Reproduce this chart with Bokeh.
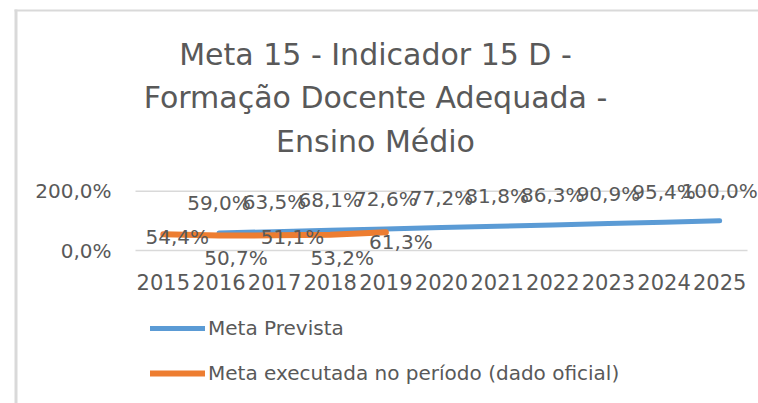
from bokeh.plotting import figure
from bokeh.models import (Range1d, FixedTicker, LabelSet, ColumnDataSource,
                          Legend, LegendItem, Label, BoxAnnotation)
from bokeh.core.properties import value
from bokeh.embed import file_html
from bokeh.resources import INLINE

years = ["2015", "2016", "2017", "2018", "2019", "2020", "2021", "2022", "2023", "2024", "2025"]
prev_years = ["2016", "2017", "2018", "2019", "2020", "2021", "2022", "2023", "2024", "2025"]
prev_values = [59.0, 63.5, 68.1, 72.6, 77.2, 81.8, 86.3, 90.9, 95.4, 100.0]
exec_years = ["2015", "2016", "2017", "2018", "2019"]
exec_values = [54.4, 50.7, 51.1, 53.2, 61.3]
y_ticks = [0, 200]
title_lines = ["Meta 15 - Indicador 15 D -", "Formação Docente Adequada -", "Ensino Médio"]
series_names = ["Meta Prevista", "Meta executada no período (dado oficial)"]

# label layout (pixel offsets, not data)
exec_dx = [14, 17, 18, 12, 15]
exec_dy = [-3, -23, -2, -23, -10]
title_baselines = [54, 97, 141]

FONT = "DejaVu Sans"
TXT = "#595959"
BLUE = "#5B9BD5"
ORANGE = "#ED7D31"
GRID = "#D9D9D9"

W, H = 758, 403
AXIS_PX = 268               # x axis line, px from top
PX_PER_UNIT = 59.3 / 200.0  # vertical scale
ZERO_PX = 250
PLOT_LEFT_PX, PLOT_RIGHT_PX = 135, 747   # plot area edges

n = len(years)
cat_px = (PLOT_RIGHT_PX - PLOT_LEFT_PX) / n

def fmt(v):
    return f"{v:.1f}".replace(".", ",") + "%"

def px_to_y(py):
    return (ZERO_PX - py) / PX_PER_UNIT

def px_to_x(px):
    return (px - PLOT_LEFT_PX) / cat_px - 0.5

idx = {y: i for i, y in enumerate(years)}

p = figure(width=W, height=H,
           x_range=Range1d(px_to_x(0), px_to_x(W)),
           y_range=Range1d(px_to_y(H), px_to_y(0)), output_backend="svg", toolbar_location=None,
           min_border_left=0, min_border_right=0, min_border_top=0, min_border_bottom=0)
p.title = None
p.outline_line_color = None
p.background_fill_color = "white"
p.border_fill_color = "white"

p.xgrid.grid_line_color = None
p.ygrid.grid_line_color = None
p.segment(x0=[-0.5] * len(y_ticks), x1=[n - 0.5] * len(y_ticks), y0=y_ticks, y1=y_ticks,
          line_color=GRID, line_width=1.5)

p.xaxis.ticker = FixedTicker(ticks=list(range(n)))
p.xaxis.major_label_overrides = {i: y for i, y in enumerate(years)}
p.yaxis.ticker = FixedTicker(ticks=y_ticks)
p.yaxis.major_label_overrides = {t: fmt(t) for t in y_ticks}
for ax in (p.xaxis, p.yaxis):
    ax.axis_line_color = None
    ax.major_tick_line_color = None
    ax.minor_tick_line_color = None
    ax.major_tick_out = 0
    ax.major_tick_in = 0
    ax.major_label_text_font = FONT
    ax.major_label_text_font_size = "20px"
    ax.major_label_text_color = TXT
p.xaxis.major_label_text_font_size = "21px"
p.yaxis.major_label_standoff = 24
p.xaxis.major_label_standoff = 5
p.xaxis.fixed_location = px_to_y(AXIS_PX)
p.yaxis.fixed_location = -0.5

src_p = ColumnDataSource(dict(x=[idx[y] for y in prev_years], y=prev_values,
                              t=[fmt(v) for v in prev_values]))
src_e = ColumnDataSource(dict(x=[idx[y] for y in exec_years], y=exec_values,
                              t=[fmt(v) for v in exec_values], dx=exec_dx, dy=exec_dy))

r1 = p.line("x", "y", source=src_p, line_color=BLUE, line_width=5, line_cap="round", line_join="round")
r2 = p.line("x", "y", source=src_e, line_color=ORANGE, line_width=6, line_cap="round", line_join="round")

lp = LabelSet(x="x", y="y", text="t", source=src_p, y_offset=30, text_align="center",
              text_baseline="middle", text_font=value(FONT), text_font_size="20px", text_color=TXT)
le = LabelSet(x="x", y="y", text="t", source=src_e, x_offset="dx", y_offset="dy", text_align="center",
              text_baseline="middle", text_font=value(FONT), text_font_size="20px", text_color=TXT)
p.add_layout(lp)
p.add_layout(le)

for line, base in zip(title_lines, title_baselines):
    p.add_layout(Label(x=375, y=base, x_units="canvas", y_units="canvas", text=line,
                       text_align="center", text_baseline="alphabetic", text_font=FONT,
                       text_font_size="30px", text_color=TXT))

legend = Legend(items=[LegendItem(label=series_names[0], renderers=[r1]),
                       LegendItem(label=series_names[1], renderers=[r2])],
                location=(150, 18), orientation="vertical", glyph_width=55, glyph_height=24,
                label_height=24, label_standoff=3, spacing=21, padding=0, margin=0,
                label_text_font=FONT, label_text_font_size="20px", label_text_color=TXT,
                border_line_color=None, background_fill_alpha=0)
p.add_layout(legend, "center")

# chart-area border (left and top edges)
for l, r, t, b in [(14, 17, 9, H), (14, W, 9, 11)]:
    p.add_layout(BoxAnnotation(left=l, right=r, top=t, bottom=b, left_units="canvas",
                               right_units="canvas", top_units="canvas", bottom_units="canvas",
                               fill_color=GRID, fill_alpha=1, line_color=None))

open("out.html", "w").write(file_html(p, INLINE))
